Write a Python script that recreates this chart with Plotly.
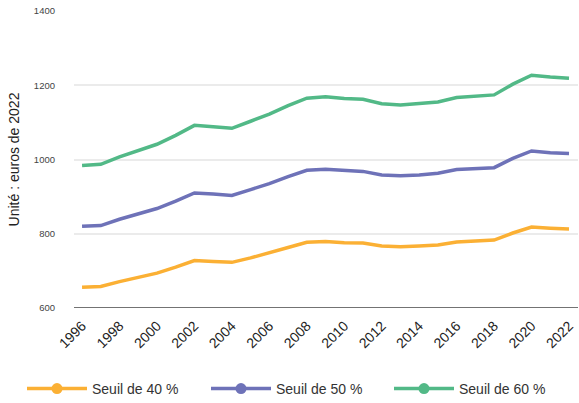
import plotly.graph_objects as go

years = list(range(1996, 2023))
seuil_40 = [656, 658, 671, 683, 694, 710, 728, 725, 723, 735, 748, 763, 777, 779, 776,
            775, 767, 765, 767, 770, 778, 781, 783, 802, 818, 815, 813]
seuil_50 = [820, 822, 839, 853, 868, 888, 910, 907, 903, 919, 935, 954, 971, 974, 970,
            968, 958, 956, 958, 963, 973, 976, 978, 1003, 1023, 1018, 1016]
seuil_60 = [984, 987, 1007, 1024, 1041, 1065, 1092, 1088, 1084, 1103, 1122, 1145, 1165, 1169, 1164,
            1162, 1150, 1147, 1150, 1155, 1167, 1171, 1174, 1203, 1227, 1222, 1219]
names = ["Seuil de 40 %", "Seuil de 50 %", "Seuil de 60 %"]
colors = ["#FBB034", "#6E72B8", "#52B987"]
tick_years = list(range(1996, 2023, 2))

FONT = "Liberation Sans, Arial, sans-serif"

fig = go.Figure()
for name, vals, col in zip(names, [seuil_40, seuil_50, seuil_60], colors):
    fig.add_trace(go.Scatter(
        x=years, y=vals, name=name, mode="lines", showlegend=False,
        line=dict(color=col, width=3.5),
    ))
# legend-only entries (line + dot), one legend box per entry
legend_ids = ["legend", "legend2", "legend3"]
for name, col, lid in zip(names, colors, legend_ids):
    fig.add_trace(go.Scatter(
        x=[None], y=[None], name=name, mode="lines+markers", legend=lid,
        line=dict(color=col, width=3.5),
        marker=dict(size=11, color=col),
    ))

def legend_box(xpix):
    return dict(orientation="h", x=xpix / 579, xanchor="left", xref="container",
                y=14 / 403, yanchor="middle", yref="container", itemwidth=60,
                font=dict(size=14, color="#333"), itemclick=False,
                bgcolor="rgba(0,0,0,0)")

fig.update_layout(
    width=579, height=403,
    margin=dict(l=74, r=1, t=11, b=95, autoexpand=False),
    paper_bgcolor="white", plot_bgcolor="white",
    font=dict(family=FONT, color="#222"),
    showlegend=True,
    legend=legend_box(22),
    legend2=legend_box(206),
    legend3=legend_box(389),
    xaxis=dict(range=[1995.57, 2022.48], tickmode="array", tickvals=tick_years,
               ticktext=[str(y) for y in tick_years], tickangle=-45,
               tickfont=dict(size=14, color="#222"), showgrid=False,
               showline=False, zeroline=False, ticks="", automargin=False,
               ticklabelstandoff=6),
    yaxis=dict(range=[600, 1400], tickvals=[600, 800, 1000, 1200, 1400],
               tickfont=dict(size=9.5, color="#444"), showgrid=True,
               gridcolor="#EBEBEB", gridwidth=1.5, zeroline=False, ticks="",
               ticklabelstandoff=18, automargin=False,
               title=dict(text="Unité : euros de 2022", font=dict(size=14, color="#222"),
                          standoff=10)),
)
# baseline at 600
fig.add_shape(type="line", xref="paper", yref="y", x0=0, x1=1, y0=600, y1=600,
              line=dict(color="#444", width=1.5), layer="above")

fig.write_html("out.html")
